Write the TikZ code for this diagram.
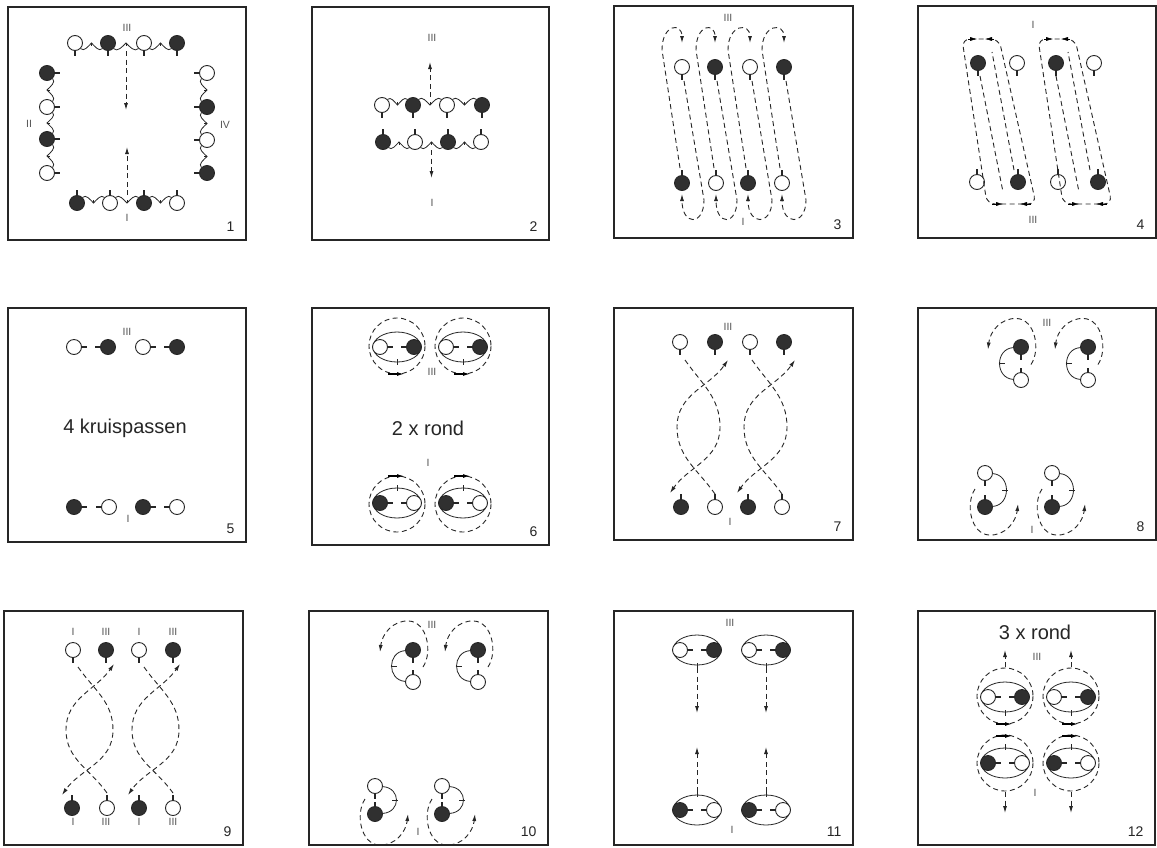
\documentclass[tikz,border=0pt]{standalone}
\usepackage{fontspec}
\setmainfont{Liberation Sans}
\usetikzlibrary{arrows.meta,calc,positioning}
\definecolor{ink}{HTML}{262626}
\definecolor{manfill}{HTML}{303030}
\definecolor{lbl}{HTML}{555555}
\tikzset{
  man/.style={circle,draw=ink,fill=manfill,line width=0.9pt,minimum size=15pt,inner sep=0pt},
  woman/.style={circle,draw=ink,fill=white,line width=0.9pt,minimum size=15pt,inner sep=0pt},
  nose/.style={draw=ink,line width=2.6pt},
  hand/.style={draw=ink,line width=0.8pt},
  dsh/.style={draw=ink,line width=0.9pt,dash pattern=on 5pt off 3.5pt},
  dart/.style={-{Latex[length=7pt,width=4pt]}},
  panel/.style={draw=ink,line width=1.1pt},
  wall/.style={font=\fontsize{10.5}{10.5}\selectfont,text=lbl},
  fignum/.style={font=\fontsize{14}{14}\selectfont,anchor=south east,text=ink},
  bigtext/.style={font=\fontsize{20}{20}\selectfont,text=ink},
}
%% one dancer with its nose
\newcommand{\dancer}[6]{\node[#2] (#1) at (#3,#4) {}; \draw[nose] (#1.#5) -- ++#6;}
%% hand hold between two dancers
\newcommand{\hands}[5]{%
  \coordinate (#1#2) at ($(#1)!0.5!(#2)$);
  \draw[hand] (#1) to[out=#3,in=#4] (#1#2) to[out=#3,in=#4] (#2);
  \draw[hand] (#1#2) -- ++#5;}
%% couple facing each other, arms round
\newcommand{\couple}[6]{%
  \draw[hand] (#2,#3) ellipse [x radius=24, y radius=15];
  \draw[hand] (#2,#3) ++(0,#6) ++(0,-3) -- ++(0,6);
  \node[#4] (#1l) at (#2-17,#3) {};
  \node[#5] (#1r) at (#2+17,#3) {};
  \draw[nose] (#1l.east) -- ++(5,0);
  \draw[nose] (#1r.west) -- ++(-5,0);}
%% couple turning under
\newcommand{\swing}[5]{%
  \begin{scope}[shift={(#2,#3)},rotate=#4]
    \node[man] (#1b) at (0,-#5) {};
    \node[woman] (#1w) at (0,#5) {};
    \draw[nose] (0,-#5+7.5) -- ++(0,5);
    \draw[nose] (0,#5-7.5) -- ++(0,-5);
    \draw[hand] (#1b) .. controls (-26,-#5+2) and (-26,#5-2) .. (#1w);
    \draw[hand] (-22.5,0) -- (-16.5,0);
    \draw[dsh,dart] (10,1) .. controls (20,-14) and (14,-44) .. (-4,-45) .. controls (-20,-46) and (-31,-32) .. (-33,-14);
  \end{scope}}

\begin{document}
\begin{tikzpicture}[x=1pt,y=-1pt]
\useasboundingbox (0,0) rectangle (1157,847);
\fill[white] (0,0) rectangle (1157,847);

%% frames and numbers
\foreach \n/\xa/\ya/\xb/\yb in {1/8/7/246/240, 2/312/7/549/240, 3/614/6/853/238, 4/918/6/1156/238,
    5/8/308/246/542, 6/312/308/549/545, 7/614/308/853/540, 8/918/308/1156/540,
    9/4/611/243/845, 10/309/611/548/845, 11/614/611/853/845, 12/918/611/1155/845}{
  \draw[panel] (\xa,\ya) rectangle (\xb,\yb);
  \node[fignum] (num\n) at (\xb-8,\yb-5) {\n};
}

%% 1
\foreach \nm/\st/\x in {a/woman/75,b/man/108,c/woman/144,d/man/177}
  \dancer{p1t\nm}{\st}{\x}{43}{south}{(0,5)};
\foreach \nm/\st/\x in {a/man/77,b/woman/110,c/man/144,d/woman/177}
  \dancer{p1b\nm}{\st}{\x}{203}{north}{(0,-5)};
\foreach \nm/\st/\y in {a/man/73,b/woman/107,c/man/139,d/woman/173}
  \dancer{p1l\nm}{\st}{47}{\y}{east}{(5,0)};
\foreach \nm/\st/\y in {a/woman/73,b/man/107,c/woman/140,d/man/173}
  \dancer{p1r\nm}{\st}{207}{\y}{west}{(-5,0)};
\foreach \u/\v in {a/b,b/c,c/d}{
  \hands{p1t\u}{p1t\v}{-45}{-135}{(0,3)}
  \hands{p1b\u}{p1b\v}{45}{135}{(0,-3)}
  \hands{p1l\u}{p1l\v}{-45}{45}{(3,0)}
  \hands{p1r\u}{p1r\v}{-135}{135}{(-3,0)}
}
\node[wall] (p1III) at (127,28) {III};
\node[wall] (p1I) at (127,218) {I};
\node[wall] (p1II) at (29,124) {II};
\node[wall] (p1IV) at (225,125) {IV};
\draw[dsh,dart] ([yshift=-8pt]p1tbp1tc) -- ([yshift=-67pt]p1tbp1tc);
\draw[dsh,dart] ([yshift=8pt]p1bbp1bc) -- ([yshift=56pt]p1bbp1bc);

%% 2
\foreach \nm/\st/\x in {a/woman/382,b/man/413,c/woman/447,d/man/482}
  \dancer{p2t\nm}{\st}{\x}{105}{south}{(0,5)};
\foreach \nm/\st/\x in {a/man/383,b/woman/415,c/man/448,d/woman/481}
  \dancer{p2b\nm}{\st}{\x}{142}{north}{(0,-5)};
\foreach \u/\v in {a/b,b/c,c/d}{
  \hands{p2t\u}{p2t\v}{45}{135}{(0,-3)}
  \hands{p2b\u}{p2b\v}{-45}{-135}{(0,3)}
}
\node[wall] (p2III) at (432,38) {III};
\node[wall] (p2I) at (432,203) {I};
\draw[dsh,dart] ([yshift=8pt]p2tbp2tc) -- ([yshift=43pt]p2tbp2tc);
\draw[dsh,dart] ([yshift=-8pt]p2bbp2bc) -- ([yshift=-36pt]p2bbp2bc);

%% 3
\foreach \nm/\st/\x in {a/woman/682,b/man/715,c/woman/750,d/man/784}
  \dancer{p3t\nm}{\st}{\x}{67}{south}{(0,5)};
\foreach \nm/\st/\x in {a/man/682,b/woman/716,c/man/748,d/woman/782}
  \dancer{p3b\nm}{\st}{\x}{183}{north}{(0,-5)};
\foreach \xt/\xb in {682/682,715/716,750/748,784/782}{
  \draw[dsh,dart] (\xb-2,168) -- (\xb-20,50) .. controls (\xb-20,24) and (\xt,22) .. (\xt,43);
  \draw[dsh,dart] (\xt+2,81) -- (\xt+22,200) .. controls (\xt+22,226) and (\xb,226) .. (\xb,194);
}
\node[wall] (p3III) at (728,18) {III};
\node[wall] (p3I) at (743,222) {I};

%% 4
\foreach \nm/\st/\x in {a/man/978,b/woman/1017,c/man/1056,d/woman/1094}
  \dancer{p4t\nm}{\st}{\x}{63}{south}{(0,5)};
\foreach \nm/\st/\x in {a/woman/977,b/man/1018,c/woman/1058,d/man/1098}
  \dancer{p4b\nm}{\st}{\x}{182}{north}{(0,-5)};
\foreach \dx in {0,76}{
  \draw[dsh,rounded corners=8pt] (962+\dx,39) -- (999+\dx,39) -- (1036+\dx,204) -- (987+\dx,204) -- cycle;
  \draw[dart] (968+\dx,39) -- (977+\dx,39);
  \draw[dart] (994+\dx,39) -- (985+\dx,39);
  \draw[dart] (992+\dx,204) -- (1003+\dx,204);
  \draw[dart] (1031+\dx,204) -- (1020+\dx,204);
  \draw[dsh] (980+\dx,76) -- (1003+\dx,192);
  \draw[dsh] (1014+\dx,170) -- (992+\dx,52);
}
\node[wall] (p4I) at (1033,25) {I};
\node[wall] (p4III) at (1033,220) {III};

%% 5
\foreach \nm/\st/\x/\an/\d in {a/woman/74/east/5,b/man/108/west/-5,c/woman/143/east/5,d/man/177/west/-5}
  \dancer{p5t\nm}{\st}{\x}{347}{\an}{(\d,0)};
\foreach \nm/\st/\x/\an/\d in {a/man/74/east/5,b/woman/109/west/-5,c/man/143/east/5,d/woman/177/west/-5}
  \dancer{p5b\nm}{\st}{\x}{507}{\an}{(\d,0)};
\node[wall] (p5III) at (127,332) {III};
\node[wall] (p5I) at (128,519) {I};
\node[bigtext] (p5txt) at (125,428) {4 kruispassen};

%% 6
\foreach \nm/\x in {a/397,b/463}{
  \draw[dsh] (\x,346) circle [radius=28];
  \couple{p6t\nm}{\x}{347}{woman}{man}{15}
  \draw[line width=1.2pt,dart] (\x-9,374) -- (\x+7,374);
  \draw[dsh] (\x,504) circle [radius=28];
  \couple{p6b\nm}{\x}{503}{man}{woman}{-15}
  \draw[line width=1.2pt,dart] (\x-9,476) -- (\x+7,476);
}
\node[wall] (p6III) at (432,372) {III};
\node[wall] (p6I) at (428,463) {I};
\node[bigtext] (p6txt) at (428,428) {2 x rond};

%% 7
\foreach \nm/\st/\x in {a/woman/680,b/man/715,c/woman/750,d/man/784}
  \dancer{p7t\nm}{\st}{\x}{342}{south}{(0,5)};
\foreach \nm/\st/\x in {a/man/681,b/woman/715,c/man/748,d/woman/782}
  \dancer{p7b\nm}{\st}{\x}{507}{north}{(0,-5)};
\foreach \dx in {0,67}{
  \draw[dsh,dart] (685+\dx,360) to[out=-55,in=90] (720+\dx,427) to[out=-90,in=55] (670+\dx,493);
  \draw[dsh,dart] (715+\dx,494) to[out=125,in=-90] (677+\dx,427) to[out=90,in=-125] (728+\dx,360);
}
\node[wall] (p7III) at (728,327) {III};
\node[wall] (p7I) at (730,522) {I};

%% 8
\swing{p8a}{1021}{363.5}{0}{16.5}
\swing{p8b}{1088}{363.5}{0}{16.5}
\swing{p8c}{985}{490}{180}{17}
\swing{p8d}{1052}{490}{180}{17}
\node[wall] (p8III) at (1047,323) {III};
\node[wall] (p8I) at (1032,530) {I};

%% 9
\foreach \nm/\st/\x in {a/woman/73,b/man/106,c/woman/139,d/man/173}
  \dancer{p9t\nm}{\st}{\x}{650}{south}{(0,5)};
\foreach \nm/\st/\x in {a/man/72,b/woman/107,c/man/139,d/woman/173}
  \dancer{p9b\nm}{\st}{\x}{808}{north}{(0,-5)};
\foreach \dx in {0,66}{
  \draw[dsh,dart] (78+\dx,667) to[out=-55,in=90] (113+\dx,730) to[out=-90,in=55] (62+\dx,795);
  \draw[dsh,dart] (107+\dx,793) to[out=125,in=-90] (66+\dx,730) to[out=90,in=-125] (114+\dx,664);
}
\foreach \nm/\t/\x in {a/I/73,b/III/106,c/I/139,d/III/173}{
  \node[wall] (p9lt\nm) at (\x,632) {\t};
  \node[wall] (p9lb\nm) at (\x,822) {\t};
}

%% 10
\swing{p10a}{413}{666}{0}{16}
\swing{p10b}{478}{666}{0}{16}
\swing{p10c}{375}{800}{180}{14}
\swing{p10d}{442}{800}{180}{14}
\node[wall] (p10III) at (432,625) {III};
\node[wall] (p10I) at (418,832) {I};

%% 11
\foreach \nm/\x in {a/697,b/766}{
  \couple{p11t\nm}{\x}{650}{woman}{man}{16}
  \couple{p11b\nm}{\x}{810}{man}{woman}{-16}
  \draw[dsh,dart] (\x,668) -- (\x,713);
  \draw[dsh,dart] (\x,792) -- (\x,747);
}
\node[wall] (p11III) at (730,623) {III};
\node[wall] (p11I) at (732,830) {I};

%% 12
\foreach \nm/\x in {a/1005,b/1071}{
  \draw[dsh] (\x,696) circle [radius=28];
  \couple{p12t\nm}{\x}{697}{woman}{man}{16}
  \draw[line width=1.2pt,dart] (\x-9,724) -- (\x+7,724);
  \draw[dsh,dart] (\x,667) -- (\x,650);
  \draw[dsh] (\x,763) circle [radius=28];
  \couple{p12b\nm}{\x}{763}{man}{woman}{-16}
  \draw[line width=1.2pt,dart] (\x-9,736) -- (\x+7,736);
  \draw[dsh,dart] (\x,792) -- (\x,813);
}
\node[wall] (p12III) at (1037,657) {III};
\node[wall] (p12I) at (1035,793) {I};
\node[bigtext] (p12txt) at (1035,632) {3 x rond};
\end{tikzpicture}
\end{document}
